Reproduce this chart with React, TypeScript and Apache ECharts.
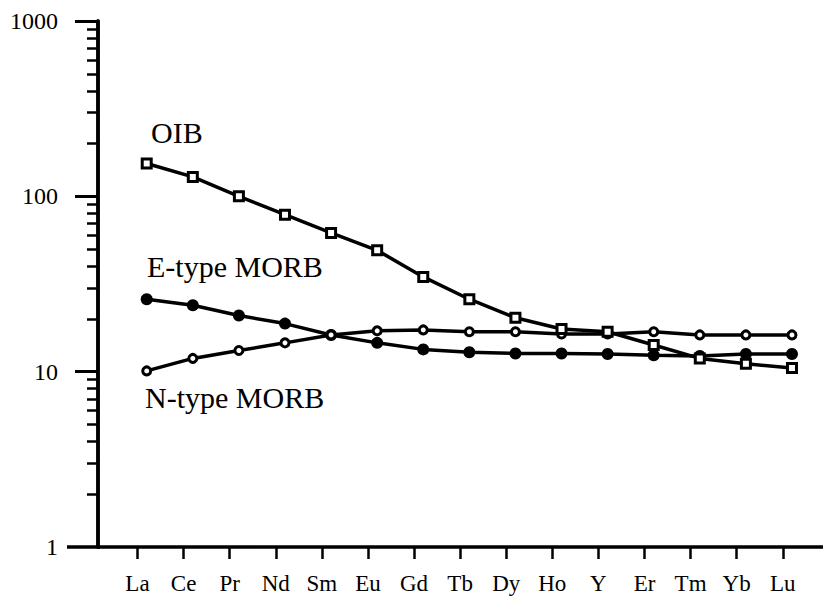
import React, { useEffect, useRef } from 'react';
import * as echarts from 'echarts';

const categories = ['La', 'Ce', 'Pr', 'Nd', 'Sm', 'Eu', 'Gd', 'Tb', 'Dy', 'Ho', 'Y', 'Er', 'Tm', 'Yb', 'Lu'];
const oib = [154, 129, 100, 78.6, 61.8, 49.2, 34.7, 25.9, 20.3, 17.5, 16.9, 14.2, 11.9, 11.1, 10.5];
const eMorb = [25.9, 23.9, 20.9, 18.8, 16.2, 14.6, 13.4, 12.9, 12.7, 12.7, 12.6, 12.4, 12.3, 12.6, 12.6];
const nMorb = [10.1, 11.9, 13.2, 14.6, 16.2, 17.1, 17.3, 16.9, 16.9, 16.4, 16.4, 16.9, 16.2, 16.2, 16.2];

const yLabelValues = [1, 10, 100, 1000];
const yMajorTicks = [10, 100, 1000];
const yMinorTicks = [2, 3, 4, 5, 6, 7, 8, 9, 20, 30, 40, 50, 60, 70, 80, 90, 200, 300, 400, 500, 600, 700, 800, 900];

const seriesNames = ['OIB', 'E-type MORB', 'N-type MORB'];

export default function App() {
  const ref = useRef<HTMLDivElement>(null);
  useEffect(() => {
    document.body.style.margin = '0';
    const chart = echarts.init(ref.current!, null, { renderer: 'svg' });
    const font = 'Liberation Serif, Times New Roman, serif';
    const tickShift = 0.2;
    const xMin = -1.057;
    const xMax = 14.673;
    const tickPos = categories.map((_, i) => i - tickShift);
    const pairs = (arr: number[]) => arr.map((v, i) => [i, v]);
    const lineStyle = { color: '#000', width: 3.5 };
    const labelStyle = { fontFamily: font, fontSize: 30, fill: '#000', verticalAlign: 'middle', align: 'left' };
    chart.setOption({
      animation: false,
      backgroundColor: '#fff',
      textStyle: { fontFamily: font },
      grid: { left: 98, right: 0, top: 21, bottom: 49, containLabel: false, outerBoundsMode: 'none' },
      xAxis: {
        type: 'value',
        min: xMin,
        max: xMax,
        axisLine: { onZero: false, lineStyle: { color: '#000', width: 3.5 } },
        axisTick: { show: true, customValues: tickPos, length: 12, lineStyle: { color: '#000', width: 2.5 } },
        axisLabel: {
          customValues: tickPos,
          formatter: (v: number) => categories[Math.round(v + tickShift)] ?? '',
          margin: 25,
          fontFamily: font,
          fontSize: 23,
          lineHeight: 22,
          color: '#000',
        },
        splitLine: { show: false },
      },
      yAxis: [
        {
          type: 'log',
          logBase: 10,
          min: 1,
          max: 1000,
          position: 'left',
          axisLine: { show: true, onZero: false, lineStyle: { color: '#000', width: 3.5 } },
          axisTick: { show: true, customValues: yMajorTicks, length: 23, lineStyle: { color: '#000', width: 3 } },
          axisLabel: {
            customValues: yLabelValues,
            formatter: (v: number) => String(Math.round(v)),
            margin: 40,
            fontFamily: font,
            fontSize: 24,
            color: '#000',
          },
          splitLine: { show: false },
          minorTick: { show: false },
        },
        {
          type: 'log',
          logBase: 10,
          min: 1,
          max: 1000,
          position: 'left',
          offset: 0,
          axisLine: { show: true, onZero: false, lineStyle: { color: '#000', width: 3.5 } },
          axisTick: { show: true, customValues: yMinorTicks, length: 11, lineStyle: { color: '#000', width: 2.5 } },
          axisLabel: { show: false },
          splitLine: { show: false },
          minorTick: { show: false },
        },
      ],
      series: [
        {
          name: seriesNames[0],
          type: 'line',
          data: pairs(oib),
          symbol: 'rect',
          symbolSize: 9,
          lineStyle,
          itemStyle: { color: '#fff', borderColor: '#000', borderWidth: 3 },
          z: 3,
        },
        {
          name: seriesNames[1],
          type: 'line',
          data: pairs(eMorb),
          symbol: 'circle',
          symbolSize: 12,
          lineStyle,
          itemStyle: { color: '#000', borderColor: '#000', borderWidth: 0 },
          z: 2,
        },
        {
          name: seriesNames[2],
          type: 'line',
          data: pairs(nMorb),
          symbol: 'circle',
          symbolSize: 8,
          lineStyle,
          itemStyle: { color: '#fff', borderColor: '#000', borderWidth: 3 },
          z: 2,
        },
      ],
      graphic: [
        { type: 'line', shape: { x1: 67, y1: 547, x2: 100, y2: 547 }, style: { stroke: '#000', lineWidth: 3.5 } },
        { type: 'text', x: 151, y: 132, style: { text: seriesNames[0], ...labelStyle } },
        { type: 'text', x: 147, y: 266, style: { text: seriesNames[1], ...labelStyle } },
        { type: 'text', x: 145, y: 397, style: { text: seriesNames[2], ...labelStyle } },
      ],
    });
    return () => chart.dispose();
  }, []);
  return <div ref={ref} style={{ width: 823, height: 596 }} />;
}
